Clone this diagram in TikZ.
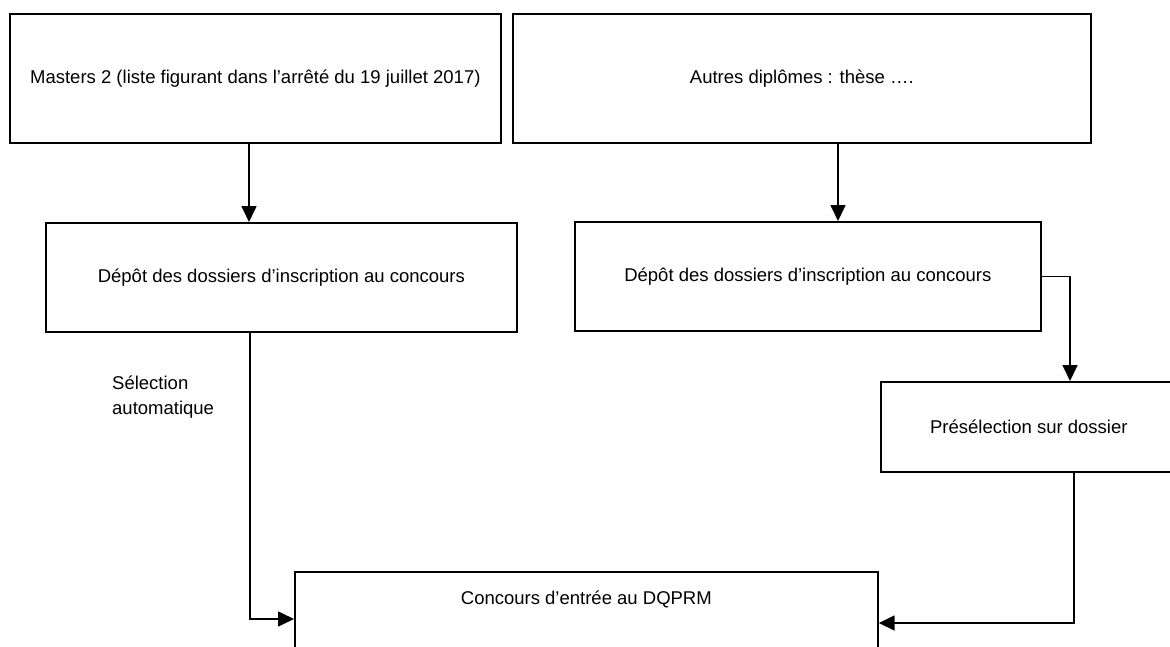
\documentclass[tikz,border=0pt]{standalone}
\usepackage{fontspec}
\setmainfont{Liberation Sans}
\usetikzlibrary{arrows.meta}
\begin{document}
\begin{tikzpicture}[x=1pt,y=-1pt,
  box/.style={draw=black, line width=1.7pt, anchor=north west, inner sep=0pt, align=center,
    font=\fontsize{18.5}{22}\selectfont},
  arr/.style={line width=1.7pt, -{Triangle[length=16pt,width=15pt]}},
  plain/.style={font=\fontsize{18.5}{25}\selectfont, align=left, inner sep=0pt}]
\useasboundingbox (0,0) rectangle (1170,646);
\node[box, minimum width=491pt, minimum height=129pt] (b1) at (9,13)
  {Masters 2 (liste figurant dans l’arrêté du 19 juillet 2017)};
\node[box, minimum width=578pt, minimum height=129pt] (b2) at (512,13)
  {Autres diplômes : thèse ….};
\node[box, minimum width=471pt, minimum height=109pt] (b3) at (45,222)
  {Dépôt des dossiers d’inscription au concours};
\node[box, minimum width=466pt, minimum height=109pt] (b4) at (574,221)
  {Dépôt des dossiers d’inscription au concours};
\node[box, minimum width=296pt, minimum height=90pt] (b5) at (880,381)
  {Présélection sur dossier};
\node[box, minimum width=583pt, text height=33pt, text depth=120pt] (fin) at (294,571)
  {Concours d’entrée au DQPRM};
\node[plain, anchor=west] (sel) at (112,397) {Sélection\\automatique};
\coordinate (c1) at (249,0);
\coordinate (c2) at (838,0);
\coordinate (c3) at (1070,0);
\coordinate (l1) at (250,619);
\coordinate (r1) at (1074,623);
\draw[arr] (b1.south -| c1) -- (b3.north -| c1);
\draw[arr] (b2.south -| c2) -- (b4.north -| c2);
\draw[arr] (b4.east) -| (b5.north -| c3);
\draw[arr] (b3.south -| l1) |- (fin.west |- l1);
\draw[arr] (b5.south -| r1) |- (fin.east |- r1);
\end{tikzpicture}
\end{document}
